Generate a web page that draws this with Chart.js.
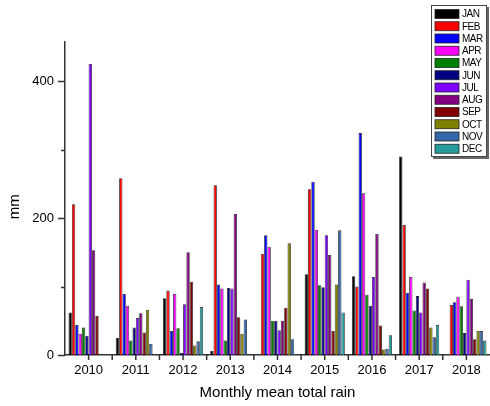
<!DOCTYPE html>
<html><head><meta charset="utf-8">
<script src="https://cdn.jsdelivr.net/npm/chart.js@4/dist/chart.umd.min.js"></script>
<style>html,body{margin:0;padding:0;background:#fff}#wrap{width:490px;height:406px}</style>
</head><body><div id="wrap"><canvas id="c" width="490" height="406"></canvas></div>
<script>
const years = ['2010','2011','2012','2013','2014','2015','2016','2017','2018'];
const months = ['JAN','FEB','MAR','APR','MAY','JUN','JUL','AUG','SEP','OCT','NOV','DEC'];
const jan = [62, 25, 83, 6, null, 118, 115, 290, null];
const feb = [220, 258, 94, 248, 148, 242, 100, 190, 73];
const mar = [44, 89, 35, 103, 175, 253, 324, 91, 77];
const apr = [31, 72, 89, 97, 158, 183, 236, 114, 85];
const may = [40, 21, 39, 21, 50, 102, 88, 65, 71];
const jun = [28, 40, 3, 98, 50, 99, 72, 86, 32];
const jul = [425, 54, 74, 97, 36, 175, 114, 62, 110];
const aug = [153, 61, 150, 206, 50, 146, 177, 106, 82];
const sep = [57, 33, 107, 55, 69, 35, 43, 97, 23];
const oct = [null, 66, 14, 31, 163, 103, 8, 40, 35];
const nov = [null, 16, 20, 52, 23, 182, 9, 26, 35];
const dec = [null, null, 70, null, null, 62, 29, 44, 21];
const yTickValues = [0, 100, 200, 300, 400];
const yLabelValues = [0, 200, 400];

const seriesList = [jan, feb, mar, apr, may, jun, jul, aug, sep, oct, nov, dec];
const colors = ['#000000','#FF0000','#0000FF','#FF00FF','#008000','#000080',
                '#8000FF','#800080','#800000','#808000','#3366A8','#239C9C'];

const axisColor = '#333333';

const tickPlugin = {
  id: 'ticksAndLegend',
  afterDraw(chart) {
    const ctx = chart.ctx;
    const x = chart.scales.x, y = chart.scales.y;
    const ca = chart.chartArea;
    ctx.save();
    ctx.strokeStyle = axisColor;
    ctx.lineWidth = 1.5;
    // y ticks
    yTickValues.forEach(v => {
      const py = Math.round(y.getPixelForValue(v)) + 0.5;
      const len = yLabelValues.includes(v) ? 7 : 4;
      ctx.beginPath(); ctx.moveTo(ca.left, py); ctx.lineTo(ca.left - len, py); ctx.stroke();
    });
    // x ticks: centers and boundaries
    const n = years.length;
    for (let i = 0; i < n; i++) {
      const c = x.getPixelForValue(i);
      ctx.beginPath(); ctx.moveTo(c, ca.bottom); ctx.lineTo(c, ca.bottom + 5); ctx.stroke();
      if (i < n - 1) {
        const b = (c + x.getPixelForValue(i + 1)) / 2;
        ctx.beginPath(); ctx.moveTo(b, ca.bottom); ctx.lineTo(b, ca.bottom + 5); ctx.stroke();
      }
    }
    // legend
    const lx = 431, ly = 5, lw = 56, lh = 152;
    ctx.fillStyle = '#666';
    ctx.fillRect(lx + 2, ly + 2, lw, lh);
    ctx.fillStyle = '#fff';
    ctx.fillRect(lx, ly, lw, lh);
    ctx.lineWidth = 1;
    ctx.strokeStyle = '#444';
    ctx.strokeRect(lx + 0.5, ly + 0.5, lw - 1, lh - 1);
    ctx.font = '10px "Liberation Sans", Arial, sans-serif';
    try { ctx.letterSpacing = '-0.5px'; } catch(e) {}
    ctx.textBaseline = 'middle';
    ctx.textAlign = 'left';
    chart.data.datasets.forEach((ds, i) => {
      const cy = 14 + i * 12.25;
      ctx.fillStyle = ds.backgroundColor;
      ctx.fillRect(435, cy - 4.5, 24, 9);
      ctx.lineWidth = 0.8;
      ctx.strokeStyle = '#222';
      ctx.strokeRect(435, cy - 4.5, 24, 9);
      ctx.fillStyle = '#000';
      ctx.fillText(ds.label, 462, cy + 0.5);
    });
    ctx.restore();
  }
};

new Chart(document.getElementById('c'), {
  type: 'bar',
  data: {
    labels: years,
    datasets: seriesList.map((d, i) => ({
      label: months[i],
      data: d,
      backgroundColor: colors[i],
      borderColor: 'rgba(0,0,0,0.85)',
      borderWidth: 0.8,
      categoryPercentage: 0.85,
      barPercentage: 1.0
    }))
  },
  options: {
    responsive: false,
    animation: false,
    devicePixelRatio: 1,
    layout: { padding: { top: 42, left: 0, right: 0, bottom: 0 } },
    plugins: { legend: { display: false }, tooltip: { enabled: false } },
    scales: {
      x: {
        grid: { display: false, drawTicks: false },
        border: { display: true, color: axisColor, width: 1.5 },
        ticks: { color: '#000', padding: 8, font: { family: '"Liberation Sans", Arial, sans-serif', size: 13 } },
        title: { display: true, text: 'Monthly mean total rain', color: '#000',
                 font: { family: '"Liberation Sans", Arial, sans-serif', size: 15 },
                 padding: { top: 0, bottom: 4 } },
        afterFit(s) { s.height = 51; }
      },
      y: {
        min: 0, max: 457,
        grid: { display: false, drawTicks: false },
        border: { display: true, color: axisColor, width: 1.5 },
        ticks: { stepSize: 100, includeBounds: false, color: '#000', padding: 11,
                 font: { family: '"Liberation Sans", Arial, sans-serif', size: 13 },
                 callback: v => yLabelValues.includes(v) ? String(v) : '' },
        title: { display: true, text: 'mm    ', color: '#000',
                 font: { family: '"Liberation Sans", Arial, sans-serif', size: 15 },
                 padding: { top: 6, bottom: 0 } },
        afterFit(s) { s.width = 65; }
      }
    }
  },
  plugins: [tickPlugin]
});
</script></body></html>
